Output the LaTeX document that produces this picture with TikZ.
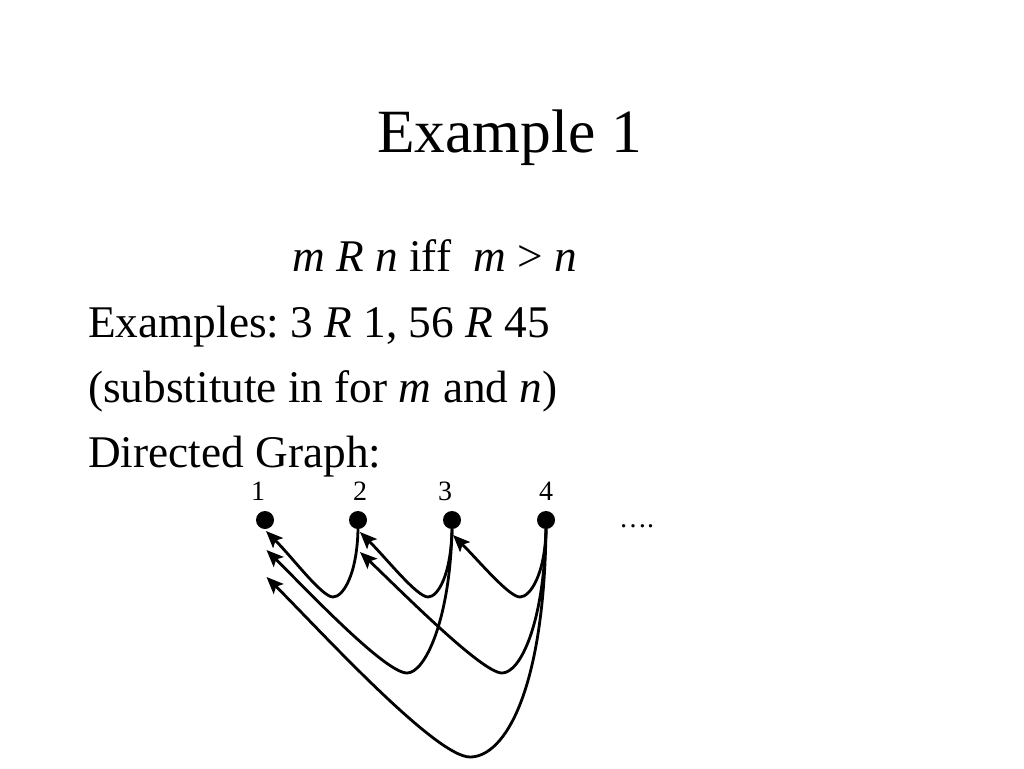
\documentclass[tikz,border=0pt]{standalone}
\usepackage{fontspec}
\setmainfont{Liberation Serif}
\usetikzlibrary{arrows.meta}
\frenchspacing
\begin{document}
\begin{tikzpicture}[x=1pt,y=-1pt,
  txt/.style={anchor=base west,inner sep=0pt,font=\fontsize{45.3}{54}\selectfont},
  lbl/.style={anchor=base,inner sep=0pt,font=\fontsize{28}{32}\selectfont},
  vtx/.style={circle,fill=black,inner sep=0pt,minimum size=18pt},
  arr/.style={line width=2.8pt,-{Stealth[length=17pt,width=14pt,inset=3.5pt]}}]
\useasboundingbox (0,0) rectangle (1024,768);
\node[anchor=base,inner sep=0pt,font=\fontsize{61.5}{70}\selectfont] (title) at (509.5,152) {Example 1};
\node[txt] (def) at (292,271) {\textit{m R n} iff\ \ \textit{m} {>} \textit{n}};
\node[txt] (ex) at (88,337) {Examples: 3 \textit{R} 1, 56 \textit{R} 45};
\node[txt] (sub) at (88,402) {(substitute in for \textit{m} and \textit{n})};
\node[txt] (dg) at (88,467) {Directed Graph:};
\node[lbl] (l1) at (258,500) {1};
\node[lbl] (l2) at (360,500) {2};
\node[lbl] (l3) at (445,500) {3};
\node[lbl] (l4) at (546,500) {4};
\node[vtx] (n1) at (265,520) {};
\node[vtx] (n2) at (358,520) {};
\node[vtx] (n3) at (452,520) {};
\node[vtx] (n4) at (546,520) {};
\node[anchor=base west,inner sep=0pt,font=\fontsize{28}{32}\selectfont] (dots) at (619,527) {\dots.};
\coordinate (t21) at (266,531);
\coordinate (t32) at (360,532);
\coordinate (t43) at (453,535);
\coordinate (t31) at (266.5,550);
\coordinate (t42) at (360,552);
\coordinate (t41) at (266.5,577);
\draw[arr] (n2.south) .. controls (357,575) and (343,597) .. (333,597)
  .. controls (322,597) and (292,557) .. (t21);
\draw[arr] (n3.south) .. controls (451,575) and (438,597) .. (428,597)
  .. controls (417,597) and (386,558) .. (t32);
\draw[arr] (n4.south) .. controls (545,575) and (530,597) .. (520,597)
  .. controls (509,597) and (479,561) .. (t43);
\draw[arr] (n3.south) .. controls (450,620) and (425,673) .. (407,673)
  .. controls (385,673) and (305,588) .. (t31);
\draw[arr] (n4.south) .. controls (544,625) and (520,673) .. (502,673)
  .. controls (482,673) and (400,590) .. (t42);
\draw[arr] (n4.south) .. controls (544,690) and (505,757) .. (470,757)
  .. controls (435,757) and (315,625) .. (t41);
\end{tikzpicture}
\end{document}
